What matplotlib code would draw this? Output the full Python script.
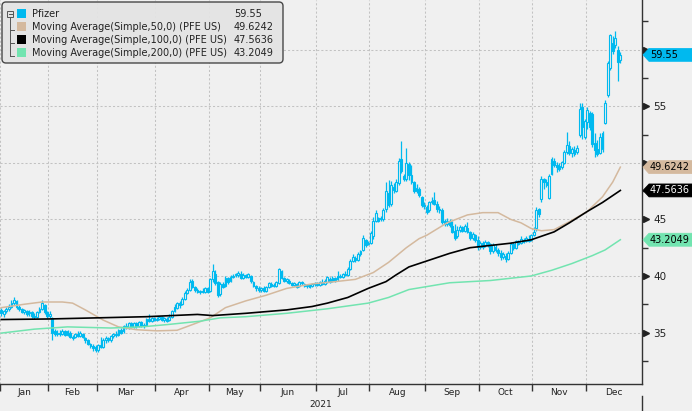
import numpy as np
import matplotlib
matplotlib.use("Agg")
import matplotlib.pyplot as plt
import matplotlib.transforms as mtransforms
from matplotlib.patches import FancyBboxPatch, Polygon, Rectangle
from matplotlib.lines import Line2D

# calendar: trading days per month in 2021
months = ["Jan", "Feb", "Mar", "Apr", "May", "Jun", "Jul", "Aug", "Sep", "Oct", "Nov", "Dec"]
month_days = [19, 19, 23, 21, 20, 22, 21, 22, 21, 21, 21, 22]
year_label = "2021"

# daily OHLC
opens = [
    37.0, 36.6, 36.9, 37.1, 37.3, 37.6, 37.8, 37.3, 37.1, 36.8, 36.9, 36.7, 36.8, 36.5, 36.4, 36.8, 37.1, 37.4, 36.8,  # jan
    36.5, 36.3, 35.1, 34.9, 35.0, 34.9, 35.1, 34.8, 35.0, 34.6, 34.6, 34.9, 34.7, 34.9, 34.5, 34.3, 34.0, 33.8, 33.7,  # feb
    33.5, 33.9, 33.7, 34.3, 34.5, 34.3, 34.7, 34.9, 34.8, 35.2, 35.1, 35.6, 35.4, 35.8, 35.5, 35.8, 35.6, 35.9, 35.7,
    35.7, 36.2, 36.0, 36.3,  # mar
    36.1, 36.2, 36.4, 36.1, 36.2, 36.1, 36.4, 36.9, 37.2, 37.6, 37.5, 38.0, 38.5, 38.8, 39.6, 39.0, 38.8, 38.6, 38.7,
    38.6, 38.9,  # apr
    38.7, 39.7, 40.2, 39.5, 38.4, 39.3, 39.1, 39.8, 39.6, 39.9, 40.1, 40.1, 40.2, 39.8, 40.1, 39.9, 40.0, 39.5, 39.1,
    38.9,  # may
    38.8, 38.9, 38.7, 39.0, 39.3, 39.1, 39.1, 39.4, 40.4, 39.8, 39.6, 39.6, 39.4, 39.2, 39.3, 39.1, 39.5, 39.3, 39.1,
    39.2, 39.1, 39.3,  # jun
    39.3, 39.2, 39.5, 39.3, 39.5, 39.7, 39.6, 39.8, 39.7, 40.0, 39.9, 40.2, 40.1, 40.6, 41.3, 41.6, 41.4, 41.9, 42.3,
    43.2, 42.8,  # jul
    42.9, 43.5, 44.9, 45.1, 45.0, 45.0, 45.9, 47.3, 46.4, 47.9, 47.5, 48.2, 50.3, 48.8, 48.6, 49.9, 48.9, 48.3, 47.5,
    47.7, 47.0, 46.3,  # aug
    46.1, 45.8, 46.5, 46.7, 46.4, 45.9, 45.8, 44.9, 44.6, 44.9, 44.4, 44.0, 43.5, 44.1, 44.3, 44.0, 44.2, 43.9, 43.4,
    43.6, 43.2,  # sep
    42.6, 42.9, 42.7, 43.0, 42.8, 42.2, 42.6, 42.3, 42.0, 41.7, 41.8, 41.5, 42.0, 42.8, 42.5, 43.0, 42.9, 43.2, 43.1,
    43.3, 43.2,  # oct
    43.6, 44.2, 45.9, 46.8, 48.6, 48.3, 46.9, 49.0, 50.2, 49.8, 49.7, 49.6, 50.0, 51.0, 51.5, 50.9, 51.1, 51.0, 52.5,
    54.9, 52.3,  # nov
    53.6, 54.4, 54.3, 51.8, 51.2, 50.9, 51.2, 53.5, 56.0, 58.4, 60.6, 60.4, 60.0, 59.1,  # dec
]
closes = [
    36.7, 36.9, 37.1, 37.3, 37.6, 37.9, 37.3, 37.1, 36.8, 37.0, 36.6, 36.8, 36.5, 36.4, 36.8, 37.1, 37.6, 36.8, 36.5,
    36.6, 35.0, 34.9, 35.0, 34.9, 35.1, 34.8, 35.1, 34.6, 34.5, 34.9, 34.7, 35.0, 34.6, 34.3, 34.0, 33.8, 33.6, 33.5,
    33.9, 33.7, 34.3, 34.5, 34.3, 34.7, 34.9, 34.8, 35.2, 35.0, 35.6, 35.5, 35.8, 35.5, 35.8, 35.6, 35.9, 35.7, 35.6,
    36.2, 36.0, 36.3, 36.1,
    36.2, 36.4, 36.1, 36.3, 36.0, 36.4, 36.9, 37.3, 37.6, 37.4, 38.0, 38.5, 38.8, 39.5, 39.0, 38.8, 38.6, 38.7, 38.6,
    38.9, 38.6,
    39.7, 40.4, 39.4, 38.3, 39.3, 39.0, 39.8, 39.5, 39.9, 40.0, 40.2, 40.3, 39.8, 40.1, 39.9, 40.2, 39.6, 39.1, 38.9,
    38.8,
    38.9, 38.7, 39.0, 39.4, 39.1, 39.2, 39.5, 40.6, 39.8, 39.6, 39.7, 39.4, 39.2, 39.4, 39.0, 39.5, 39.4, 39.1, 39.2,
    39.0, 39.3, 39.4,
    39.2, 39.5, 39.3, 39.6, 39.9, 39.5, 39.8, 39.6, 40.0, 39.9, 40.2, 40.1, 40.6, 41.3, 41.7, 41.4, 41.9, 42.2, 43.4,
    42.7, 42.9,
    43.8, 44.9, 45.6, 44.9, 45.1, 45.8, 47.5, 46.3, 48.0, 47.6, 48.3, 50.2, 49.3, 48.6, 50.0, 48.9, 48.3, 47.5, 47.8,
    47.2, 46.3, 46.2,
    45.7, 46.5, 46.6, 46.4, 45.9, 45.8, 44.8, 44.6, 44.9, 44.5, 43.9, 43.4, 44.1, 44.3, 44.0, 44.4, 43.9, 43.4, 43.7,
    43.2, 42.6,
    42.9, 42.6, 43.0, 42.8, 42.2, 42.7, 42.3, 42.0, 41.7, 41.9, 41.5, 42.0, 42.8, 42.5, 43.1, 42.8, 43.3, 43.0, 43.4,
    43.1, 43.6,
    43.9, 45.8, 45.5, 48.6, 48.3, 48.0, 48.8, 50.3, 49.8, 49.6, 49.5, 50.1, 51.0, 51.6, 50.9, 51.2, 50.8, 51.3, 54.8,
    53.2, 53.7,
    54.7, 53.2, 51.7, 51.1, 50.8, 52.3, 52.6, 55.3, 58.8, 61.3, 59.9, 61.0, 58.9, 59.55,
]
highs = [
    37.2, 37.0, 37.3, 37.5, 37.9, 38.1, 37.9, 37.4, 37.2, 37.1, 37.0, 37.0, 36.9, 36.7, 36.9, 37.3, 37.9, 37.5, 36.9,
    36.9, 36.4, 35.3, 35.2, 35.2, 35.3, 35.2, 35.2, 35.1, 34.8, 35.0, 35.1, 35.1, 35.0, 34.6, 34.4, 34.1, 34.0, 33.9,
    34.0, 34.6, 34.5, 34.7, 34.6, 34.8, 35.0, 35.1, 35.3, 35.4, 35.7, 35.8, 35.9, 35.9, 35.9, 35.9, 36.0, 36.0, 35.8,
    36.3, 36.6, 36.4, 36.4,
    36.4, 36.5, 36.5, 36.4, 36.4, 36.6, 37.0, 37.5, 37.7, 37.8, 38.1, 38.7, 38.9, 39.7, 39.7, 39.1, 38.9, 38.8, 38.9,
    39.0, 39.0,
    39.8, 41.1, 40.5, 39.6, 39.5, 39.5, 40.0, 39.9, 40.1, 40.2, 40.3, 40.4, 40.4, 40.3, 40.2, 40.3, 40.1, 39.6, 39.2,
    39.1,
    39.0, 39.1, 39.1, 39.5, 39.5, 39.4, 39.6, 40.7, 40.5, 39.9, 39.8, 39.7, 39.5, 39.5, 39.4, 39.6, 39.6, 39.4, 39.3,
    39.3, 39.4, 39.5,
    39.5, 39.6, 39.7, 39.7, 40.0, 39.9, 40.0, 39.9, 40.4, 40.2, 40.3, 40.4, 40.8, 41.5, 41.9, 41.8, 42.1, 42.3, 43.6,
    43.3, 43.1,
    44.0, 45.2, 45.8, 45.2, 45.3, 46.0, 48.3, 48.5, 48.4, 48.2, 48.6, 50.4, 51.9, 49.0, 51.3, 50.1, 49.8, 48.4, 48.1,
    47.9, 47.1, 46.5,
    46.3, 46.6, 47.0, 47.4, 46.6, 46.2, 46.0, 45.0, 45.1, 45.0, 44.9, 44.6, 44.4, 44.5, 44.4, 44.6, 44.8, 44.0, 43.9,
    43.7, 43.5,
    43.1, 43.1, 43.2, 43.1, 42.9, 42.9, 42.8, 42.5, 42.3, 42.1, 42.0, 42.2, 43.0, 43.0, 43.2, 43.2, 43.5, 43.4, 43.5,
    43.6, 43.7,
    44.3, 46.1, 46.0, 48.8, 48.7, 48.6, 49.0, 50.5, 50.4, 50.1, 50.0, 50.2, 51.1, 52.7, 51.9, 51.4, 51.5, 51.6, 55.3,
    55.3, 53.9,
    54.9, 54.6, 54.5, 52.6, 52.0, 52.6, 52.8, 55.6, 59.0, 61.4, 61.2, 61.7, 60.3, 59.8,
]
lows = [
    36.5, 36.4, 36.7, 36.9, 37.2, 37.4, 37.1, 36.9, 36.7, 36.6, 36.5, 36.5, 36.3, 36.2, 36.3, 36.7, 37.0, 36.6, 36.3,
    36.3, 34.3, 34.7, 34.7, 34.7, 34.8, 34.7, 34.7, 34.5, 34.3, 34.5, 34.6, 34.6, 34.5, 34.1, 33.9, 33.6, 33.4, 33.3,
    33.3, 33.6, 33.6, 34.1, 34.2, 34.2, 34.5, 34.6, 34.7, 34.9, 35.0, 35.3, 35.3, 35.4, 35.4, 35.4, 35.5, 35.5, 35.4,
    35.6, 35.9, 35.9, 36.0,
    36.0, 36.1, 36.0, 35.9, 35.9, 36.0, 36.3, 36.8, 37.1, 37.2, 37.4, 37.9, 38.4, 38.7, 38.9, 38.6, 38.5, 38.4, 38.5,
    38.5, 38.5,
    38.6, 39.5, 39.2, 38.1, 38.2, 38.9, 39.0, 39.3, 39.5, 39.8, 39.9, 39.9, 39.7, 39.7, 39.8, 39.8, 39.4, 39.0, 38.7,
    38.6,
    38.6, 38.6, 38.6, 38.9, 39.0, 39.0, 39.0, 39.3, 39.7, 39.5, 39.4, 39.3, 39.1, 39.1, 38.9, 39.0, 39.2, 39.0, 38.9,
    38.9, 39.0, 39.1,
    39.1, 39.1, 39.2, 39.2, 39.4, 39.4, 39.5, 39.5, 39.6, 39.8, 39.8, 40.0, 40.0, 40.5, 41.2, 41.2, 41.3, 41.8, 42.2,
    42.6, 42.7,
    42.8, 43.3, 44.8, 44.8, 44.9, 44.9, 45.7, 46.1, 46.2, 47.3, 47.4, 48.0, 49.1, 48.4, 48.4, 48.5, 48.1, 47.3, 47.3,
    47.0, 46.1, 45.9,
    45.5, 45.7, 46.4, 46.3, 45.7, 45.6, 44.6, 44.4, 44.4, 44.3, 43.8, 43.2, 43.4, 43.9, 43.9, 43.9, 43.8, 43.2, 43.2,
    43.0, 42.3,
    42.4, 42.4, 42.6, 42.6, 41.9, 42.0, 42.1, 41.8, 41.4, 41.5, 41.2, 41.4, 41.9, 42.3, 42.4, 42.7, 42.8, 42.9, 43.0,
    43.0, 43.1,
    43.5, 44.0, 45.2, 46.5, 47.7, 47.9, 46.8, 48.9, 49.6, 49.2, 49.3, 49.5, 49.9, 50.8, 50.7, 50.5, 50.6, 50.8, 52.3,
    52.1, 52.1,
    53.0, 52.9, 51.4, 50.5, 50.6, 50.8, 51.0, 53.4, 55.8, 58.2, 59.6, 60.2, 57.2, 58.8,
]

# moving averages, sampled at trading-day index
ma50_idx = [0, 9, 16, 24, 28, 33, 40, 46, 53, 61, 69, 75, 82, 88, 96, 104, 112, 122, 131, 139, 146, 152, 159, 164,
            167, 175, 183, 189, 195, 200, 204, 208, 212, 217, 223, 230, 236, 240, 243]
ma50_val = [37.2, 37.5, 37.7, 37.7, 37.6, 37.0, 36.1, 35.5, 35.25, 35.15, 35.2, 35.7, 36.3, 37.2, 37.8, 38.3, 38.9,
            39.3, 39.5, 39.7, 40.3, 41.2, 42.5, 43.3, 43.6, 44.7, 45.4, 45.6, 45.6, 45.0, 44.7, 44.2, 44.0, 44.1,
            44.8, 45.7, 47.0, 48.3, 49.6242]
ma100_idx = [0, 19, 38, 57, 77, 83, 96, 112, 122, 128, 136, 144, 151, 155, 160, 168, 176, 184, 192, 200, 208, 217,
             223, 230, 236, 243]
ma100_val = [36.15, 36.2, 36.3, 36.4, 36.6, 36.5, 36.7, 37.0, 37.3, 37.6, 38.1, 38.9, 39.5, 40.1, 40.8, 41.4, 42.0,
             42.5, 42.7, 42.9, 43.2, 43.9, 44.7, 45.7, 46.5, 47.5636]
ma200_idx = [0, 13, 26, 43, 55, 65, 78, 86, 96, 112, 128, 144, 152, 160, 168, 176, 192, 208, 216, 224, 232, 237, 243]
ma200_val = [34.95, 35.3, 35.5, 35.4, 35.5, 35.7, 36.0, 36.3, 36.4, 36.7, 37.1, 37.6, 38.1, 38.8, 39.1, 39.4, 39.6,
             40.0, 40.5, 41.1, 41.8, 42.3, 43.2049]

series_names = ["Pfizer", "Moving Average(Simple,50,0) (PFE US)", "Moving Average(Simple,100,0) (PFE US)",
                "Moving Average(Simple,200,0) (PFE US)"]
last_labels = ["59.55", "49.6242", "47.5636", "43.2049"]
last_values = [59.55, 49.6242, 47.5636, 43.2049]

bg = "#f0f0f0"
cyan = "#00b9ef"
tan = "#d4b99e"
black = "#000000"
mint = "#72e4b0"
colors = [cyan, tan, black, mint]
tag_text = ["#000000", "#000000", "#ffffff", "#000000"]
grid_c = "#c2c2c2"
axis_c = "#333333"

W, H = 692, 411
fig = plt.figure(figsize=(W / 100, H / 100), dpi=100)
fig.patch.set_facecolor(bg)
ax = fig.add_axes([0, 27 / H, 642 / W, 384 / H])
ax.set_facecolor(bg)

# pixel transform with origin at top-left
px = mtransforms.Affine2D().scale(1 / 100, -1 / 100).translate(0, H / 100) + fig.dpi_scale_trans

o = np.array(opens)
c = np.array(closes)
h = np.array(highs)
l = np.array(lows)
x = np.arange(len(c))
up = c >= o

ax.vlines(x, l, h, color=cyan, lw=0.9, zorder=3)
bot = np.minimum(o, c)
hgt = np.maximum(np.abs(c - o), 0.05)
ax.bar(x[up], hgt[up], bottom=bot[up], width=0.72, facecolor=bg, edgecolor=cyan, linewidth=0.8, zorder=4)
ax.bar(x[~up], hgt[~up], bottom=bot[~up], width=0.72, facecolor=cyan, edgecolor=cyan, linewidth=0.8, zorder=4)

ax.plot(ma50_idx, ma50_val, color=tan, lw=1.1, zorder=5)
ax.plot(ma100_idx, ma100_val, color=black, lw=1.2, zorder=5)
ax.plot(ma200_idx, ma200_val, color=mint, lw=1.1, zorder=5)

total = sum(month_days)
ax.set_xlim(-0.5, total - 0.5)
ax.set_ylim(30.45, 64.4)

starts = np.concatenate([[0], np.cumsum(month_days)]) - 0.5
mids = (starts[:-1] + starts[1:]) / 2
ax.set_xticks(starts[:-1])
ax.set_xticklabels([])
ax.set_xticks(mids, minor=True)
ax.set_xticklabels(months, minor=True)
ax.tick_params(axis="x", which="major", length=5, width=1, color=axis_c, direction="out")
ax.tick_params(axis="x", which="minor", length=0, pad=3, labelsize=6.5, labelcolor="#222222")

# 50 and 60 sit under the last-value tags, so no label there
yt = [35, 40, 45, 50, 55, 60]
yt_labels = ["35", "40", "45", "", "55", ""]
ax.yaxis.tick_right()
ax.set_yticks(yt)
ax.set_yticklabels(yt_labels)
ax.set_yticks(np.arange(32.5, 64, 5), minor=True)
ax.tick_params(axis="y", which="major", length=0, pad=8, labelsize=7.5, labelcolor="#222222")
ax.tick_params(axis="y", which="minor", length=4, width=1, color=axis_c, direction="out")

ax.grid(True, which="major", color=grid_c, linestyle=(0, (2, 2)), lw=0.75)
ax.set_axisbelow(True)
for side in ["top", "left"]:
    ax.spines[side].set_visible(False)
for side in ["bottom", "right"]:
    ax.spines[side].set_color(axis_c)
    ax.spines[side].set_linewidth(1)

# triangle ticks on the right axis
tri = mtransforms.offset_copy(ax.get_yaxis_transform(), fig=fig, x=3, y=0, units="points")
ax.plot([1] * len(yt), yt, ls="none", marker=">", ms=5, color="#222222", transform=tri, clip_on=False)

fig.text(320.5 / W, 1 - 404 / H, year_label, ha="center", va="center", fontsize=6.5, color="#222222")
fig.add_artist(Line2D([641.5, 641.5], [396, H], transform=px, color=axis_c, lw=1))

# last-value tags
for val, lab, col, tc in zip(last_values, last_labels, colors, tag_text):
    yd = ax.transData.transform([(0, val)])[0][1]
    yp = H - yd
    poly = Polygon([(643, yp), (649, yp - 6.5), (W, yp - 6.5), (W, yp + 6.5), (649, yp + 6.5)],
                   closed=True, transform=px, facecolor=col, edgecolor=col, lw=0.5)
    fig.add_artist(poly)
    fig.text(650, yp, lab, transform=px, ha="left", va="center", fontsize=7, color=tc)

# legend box
box = FancyBboxPatch((2, 2), 281, 61, boxstyle="round,pad=0,rounding_size=4", transform=px,
                     facecolor="#e4e4e4", edgecolor="#3a3a3a", lw=1, alpha=0.92)
fig.add_artist(box)
rows = [14, 27, 40, 53]
fig.add_artist(Rectangle((7, 11), 6, 6, transform=px, facecolor="none", edgecolor="#555555", lw=0.7))
fig.add_artist(Line2D([8.5, 11.5], [14, 14], transform=px, color="#555555", lw=0.7))
fig.add_artist(Line2D([10, 10], [17, 56], transform=px, color="#555555", lw=0.7))
for r in rows[1:]:
    fig.add_artist(Line2D([10, 14], [r + 3, r + 3], transform=px, color="#555555", lw=0.7))
for r, name, col, lab in zip(rows, series_names, colors, last_labels):
    fig.add_artist(Rectangle((17, r - 4.5), 9, 9, transform=px, facecolor=col, edgecolor="none"))
    fig.text(32, r, name, transform=px, ha="left", va="center", fontsize=7, color="#222222")
    fig.text(234, r, lab, transform=px, ha="left", va="center", fontsize=7, color="#222222")

fig.savefig("out.png", dpi=100, facecolor=bg)
